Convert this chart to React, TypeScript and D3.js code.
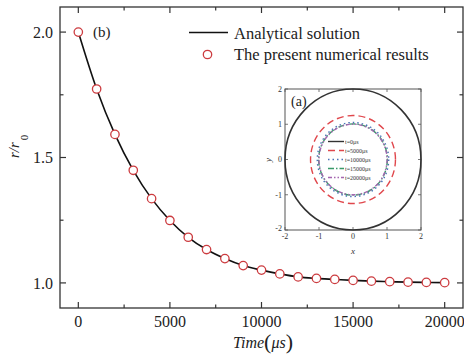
import React from "react";
import * as d3 from "d3";

const times = [0, 1000, 2000, 3000, 4000, 5000, 6000, 7000, 8000, 9000, 10000, 11000, 12000, 13000, 14000, 15000, 16000, 17000, 18000, 19000, 20000];
const numerical = [2.0, 1.773, 1.592, 1.449, 1.336, 1.249, 1.182, 1.133, 1.097, 1.069, 1.051, 1.036, 1.024, 1.018, 1.014, 1.010, 1.007, 1.005, 1.003, 1.002, 1.001];
const analytical = [2.0, 1.773, 1.592, 1.449, 1.336, 1.249, 1.182, 1.133, 1.097, 1.069, 1.051, 1.036, 1.024, 1.018, 1.014, 1.010, 1.007, 1.005, 1.003, 1.002, 1.001];
const xTicks = [0, 5000, 10000, 15000, 20000];
const xMinor = [2500, 7500, 12500, 17500];
const yTicks = [1.0, 1.5, 2.0];
const yMinor = [1.25, 1.75];

const insetLabels = ["t=0μs", "t=5000μs", "t=10000μs", "t=15000μs", "t=20000μs"];
const insetRadii = [2, 1.249, 1.051, 1.01, 1.002];
const insetColors = ["#333333", "#e0474c", "#4a72b8", "#3a9a6a", "#a466b0"];
const insetDash = ["", "7,4", "1.5,3", "6,2,1.5,2", "4,2,1.5,2,1.5,2"];
const insetTicks = [-2, -1, 0, 1, 2];

const FONT = "'Liberation Serif', 'Times New Roman', serif";

export default function App() {
  const ml = 60, mr = 463, mt = 7, mb = 308;
  const x = d3.scaleLinear().domain([-1000, 21000]).range([ml, mr]);
  const y = d3.scaleLinear().domain([0.9, 2.1]).range([mb, mt]);
  const lineGen = d3
    .line<number>()
    .x((_, i) => x(times[i]))
    .y((d) => y(d))
    .curve(d3.curveMonotoneX);

  // inset
  const il = 285, ir = 421, it = 89, ib = 230;
  const ix = d3.scaleLinear().domain([-2, 2]).range([il, ir]);
  const iy = d3.scaleLinear().domain([-2, 2]).range([ib, it]);
  const axisColor = "#333";

  return (
    <svg
      width={464}
      height={360}
      style={{ position: "absolute", left: 0, top: 0, background: "#fff" }}
      fontFamily={FONT}
    >
      <rect x={0} y={0} width={464} height={360} fill="#fff" />
      {/* frame */}
      <rect x={ml} y={mt} width={mr - ml} height={mb - mt} fill="none" stroke={axisColor} strokeWidth={1.3} />
      {/* x ticks */}
      {xTicks.map((t) => (
        <g key={"xt" + t}>
          <line x1={x(t)} x2={x(t)} y1={mb} y2={mb - 6} stroke={axisColor} strokeWidth={1.2} />
          <line x1={x(t)} x2={x(t)} y1={mt} y2={mt + 6} stroke={axisColor} strokeWidth={1.2} />
          <text x={x(t)} y={327} textAnchor="middle" fontSize={16} fill="#222">
            {t}
          </text>
        </g>
      ))}
      {xMinor.map((t) => (
        <g key={"xm" + t}>
          <line x1={x(t)} x2={x(t)} y1={mb} y2={mb - 3.5} stroke={axisColor} strokeWidth={1.2} />
          <line x1={x(t)} x2={x(t)} y1={mt} y2={mt + 3.5} stroke={axisColor} strokeWidth={1.2} />
        </g>
      ))}
      {yTicks.map((t) => (
        <g key={"yt" + t}>
          <line x1={ml} x2={ml + 6} y1={y(t)} y2={y(t)} stroke={axisColor} strokeWidth={1.2} />
          <line x1={mr} x2={mr - 6} y1={y(t)} y2={y(t)} stroke={axisColor} strokeWidth={1.2} />
          <text x={53} y={y(t)} dy="0.35em" textAnchor="end" fontSize={16} fill="#222">
            {t.toFixed(1)}
          </text>
        </g>
      ))}
      {yMinor.map((t) => (
        <g key={"ym" + t}>
          <line x1={ml} x2={ml + 3.5} y1={y(t)} y2={y(t)} stroke={axisColor} strokeWidth={1.2} />
          <line x1={mr} x2={mr - 3.5} y1={y(t)} y2={y(t)} stroke={axisColor} strokeWidth={1.2} />
        </g>
      ))}
      {/* axis labels */}
      <text x={263} y={348} textAnchor="middle" fill="#222">
        <tspan fontStyle="italic" fontSize={16}>Time</tspan>
        <tspan fontSize={22} dy={1}>(</tspan>
        <tspan fontStyle="italic" fontSize={16} dy={-1}>μs</tspan>
        <tspan fontSize={22} dy={1}>)</tspan>
      </text>
      <text transform="translate(19,158) rotate(-90)" fill="#222" fontSize={15}>
        <tspan fontStyle="italic">r/r</tspan>
        <tspan fontSize={11} dx={2} dy={9}>0</tspan>
      </text>
      <text x={93} y={37} fontSize={15} fill="#222">(b)</text>

      {/* inset */}
      <rect x={il} y={it} width={ir - il} height={ib - it} fill="#fff" stroke="#555" strokeWidth={1} />
      {insetTicks.map((t) => (
        <g key={"it" + t}>
          <line x1={ix(t)} x2={ix(t)} y1={ib} y2={ib - 3} stroke="#555" strokeWidth={0.8} />
          <line x1={ix(t)} x2={ix(t)} y1={it} y2={it + 3} stroke="#555" strokeWidth={0.8} />
          <line x1={il} x2={il + 3} y1={iy(t)} y2={iy(t)} stroke="#555" strokeWidth={0.8} />
          <line x1={ir} x2={ir - 3} y1={iy(t)} y2={iy(t)} stroke="#555" strokeWidth={0.8} />
          <text x={ix(t)} y={239} textAnchor="middle" fontSize={8} fill="#333">
            {t}
          </text>
          <text x={282} y={iy(t) + (t === -2 ? -2 : 0)} dy="0.35em" textAnchor="end" fontSize={8} fill="#333">
            {t}
          </text>
        </g>
      ))}
      <text x={353} y={254} textAnchor="middle" fontSize={9} fontStyle="italic" fill="#333">x</text>
      <text transform="translate(271,160) rotate(-90)" textAnchor="middle" fontSize={9} fontStyle="italic" fill="#333">y</text>
      {insetRadii.map((r, i) => (
        <ellipse
          key={"ie" + i}
          cx={ix(0)}
          cy={iy(0)}
          rx={ix(r) - ix(0)}
          ry={iy(0) - iy(r)}
          fill="none"
          stroke={insetColors[i]}
          strokeWidth={i === 0 ? 1.6 : 1.4}
          strokeDasharray={insetDash[i] || undefined}
        />
      ))}
      <text x={291} y={106} fontSize={14} fill="#222">(a)</text>
      {insetLabels.map((lab, i) => {
        const yy = 141.5 + i * 9;
        return (
          <g key={"il" + i}>
            <line x1={328} x2={344} y1={yy} y2={yy} stroke={insetColors[i]} strokeWidth={1.4} strokeDasharray={insetDash[i] || undefined} />
            <text x={345} y={yy} dy="0.35em" fontSize={6} fill="#333">{lab}</text>
          </g>
        );
      })}

      {/* main data */}
      <path d={lineGen(analytical) || ""} fill="none" stroke="#111" strokeWidth={1.6} />
      {numerical.map((v, i) => (
        <circle key={"p" + i} cx={x(times[i])} cy={y(v)} r={4.2} fill="#fff" stroke="#cc3b3f" strokeWidth={1.3} />
      ))}

      {/* legend */}
      <line x1={189} x2={228} y1={32.5} y2={32.5} stroke="#111" strokeWidth={1.6} />
      <text x={234} y={38.5} fontSize={16.5} fill="#222">Analytical solution</text>
      <circle cx={207.5} cy={54.5} r={4.2} fill="#fff" stroke="#cc3b3f" strokeWidth={1.3} />
      <text x={234} y={60} fontSize={16.5} fill="#222">The present numerical results</text>
    </svg>
  );
}
